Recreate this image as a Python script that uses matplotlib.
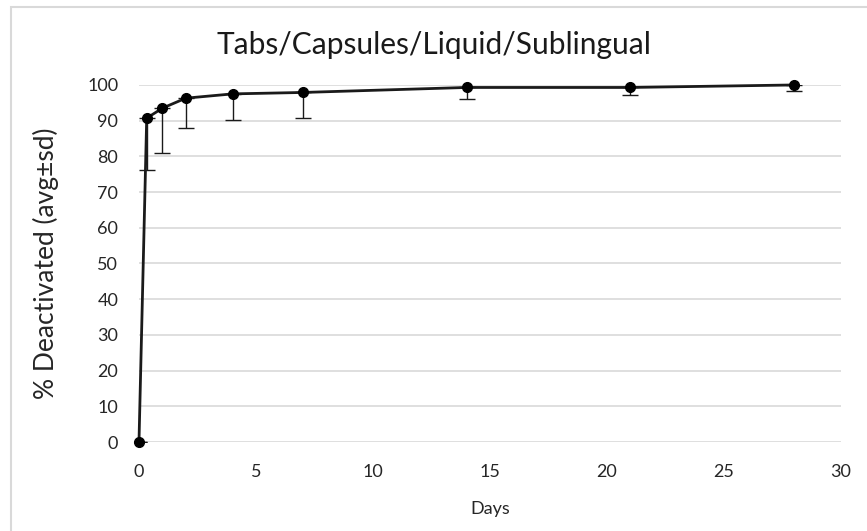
import matplotlib
matplotlib.use('Agg')
import matplotlib.pyplot as plt
from matplotlib.patches import Rectangle

# Deactivation over time, mean with lower sd bar
days = [0, 0.33, 1, 2, 4, 7, 14, 21, 28]
deactivated = [0, 90.7, 93.5, 96.3, 97.5, 97.9, 99.3, 99.3, 100]
sd = [0, 14.5, 12.6, 8.4, 7.3, 7.2, 3.1, 2.1, 1.6]

x_ticks = [0, 5, 10, 15, 20, 25, 30]
y_ticks = [0, 10, 20, 30, 40, 50, 60, 70, 80, 90, 100]

plt.rcParams['font.family'] = ['Lato', 'DejaVu Sans']

fig = plt.figure(figsize=(8.67, 5.31), dpi=100)
ax = fig.add_axes([0.1603, 0.1676, 0.8097, 0.6724])

# light frame around the chart area
fig.patches.append(Rectangle((11 / 867, -0.1), 1.2, 1 - 7 / 531 + 0.1,
                             transform=fig.transFigure, fill=False,
                             edgecolor='#d9d9d9', linewidth=1.5))

ax.errorbar(days, deactivated, yerr=[sd, [0] * len(sd)], fmt='none',
            ecolor='#1a1a1a', elinewidth=1, capsize=6, capthick=1, zorder=2)
ax.plot(days, deactivated, color='#1a1a1a', linewidth=2, marker='o',
        markersize=7, markerfacecolor='black', markeredgecolor='black',
        zorder=3, clip_on=False)

ax.set_xlim(0, 30)
ax.set_ylim(0, 100)
ax.set_xticks(x_ticks)
ax.set_yticks(y_ticks)
ax.tick_params(length=0, labelsize=13, colors='#262626')
ax.tick_params(axis='y', pad=15)
ax.tick_params(axis='x', pad=16)
ax.yaxis.grid(True, color='#d9d9d9', linewidth=1.2)
ax.set_axisbelow(True)
for s in ax.spines.values():
    s.set_visible(False)

fig.text(0.5, 1 - 45 / 531, 'Tabs/Capsules/Liquid/Sublingual', fontsize=21.5,
         color='#1a1a1a', ha='center', va='center')
ax.set_xlabel('Days', fontsize=13, color='#262626', labelpad=15)
ax.set_ylabel('% Deactivated (avg±sd)', fontsize=19, color='#262626', labelpad=20)

fig.savefig('out.png', dpi=100)
